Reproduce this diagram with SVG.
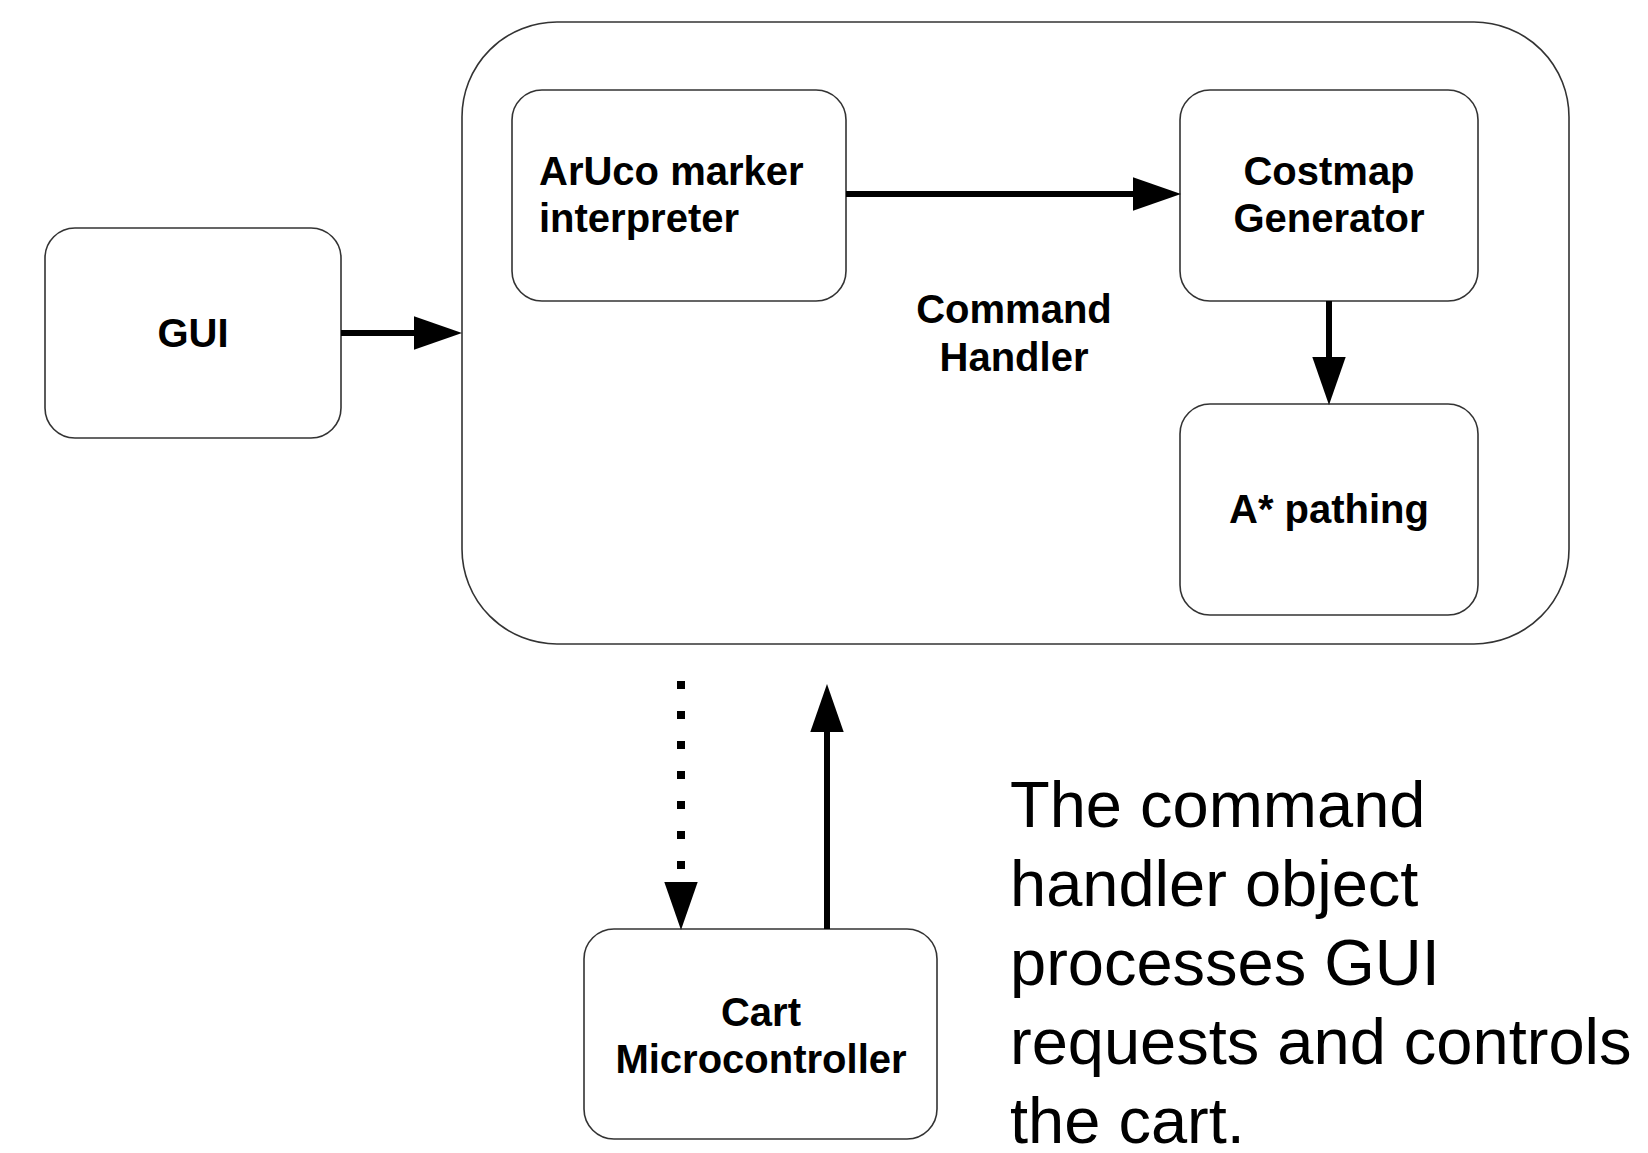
<svg xmlns="http://www.w3.org/2000/svg" width="1648" height="1153" viewBox="0 0 1648 1153">
  <style>
    .box { fill: #ffffff; stroke: #333333; stroke-width: 1.6; }
    .lbl { font-family: "Liberation Sans", Arial, sans-serif; font-weight: bold; font-size: 40px; fill: #000000; }
    .mid { text-anchor: middle; }
    .note { font-family: "Liberation Sans", Arial, sans-serif; font-size: 65px; fill: #000000; }
    .conn { stroke: #000000; stroke-width: 6; fill: none; }
    .dot { stroke: #000000; stroke-width: 8; fill: none; stroke-dasharray: 8 22; }
  </style>
  <defs>
    <marker id="arrow" markerUnits="userSpaceOnUse" markerWidth="48" markerHeight="34" refX="0" refY="16.7" orient="auto" overflow="visible">
      <path d="M0,0 L48,16.7 L0,33.4 Z" fill="#000000"/>
    </marker>
  </defs>
  <rect width="1648" height="1153" fill="#ffffff"/>

  <g id="command-handler">
    <rect class="box" x="462" y="22" width="1107" height="622" rx="95" ry="95"/>
    <text class="lbl mid" x="1014" y="323">Command</text>
    <text class="lbl mid" x="1014" y="371">Handler</text>
  </g>

  <g id="gui">
    <rect class="box" x="45" y="228" width="296" height="210" rx="30" ry="30"/>
    <text class="lbl mid" x="193" y="347">GUI</text>
  </g>

  <g id="aruco">
    <rect class="box" x="512" y="90" width="334" height="211" rx="30" ry="30"/>
    <text class="lbl" x="539" y="185">ArUco marker</text>
    <text class="lbl" x="539" y="232">interpreter</text>
  </g>

  <g id="costmap">
    <rect class="box" x="1180" y="90" width="298" height="211" rx="30" ry="30"/>
    <text class="lbl mid" x="1329" y="185">Costmap</text>
    <text class="lbl mid" x="1329" y="232">Generator</text>
  </g>

  <g id="astar">
    <rect class="box" x="1180" y="404" width="298" height="211" rx="30" ry="30"/>
    <text class="lbl mid" x="1329" y="523">A* pathing</text>
  </g>

  <g id="cart">
    <rect class="box" x="584" y="929" width="353" height="210" rx="30" ry="30"/>
    <text class="lbl mid" x="761" y="1026">Cart</text>
    <text class="lbl mid" x="761" y="1073">Microcontroller</text>
  </g>

  <g id="connectors">
    <line class="conn" x1="341" y1="333" x2="414" y2="333" marker-end="url(#arrow)"/>
    <line class="conn" x1="846" y1="194" x2="1133" y2="194" marker-end="url(#arrow)"/>
    <line class="conn" x1="1329" y1="301" x2="1329" y2="357" marker-end="url(#arrow)"/>
    <line class="dot" x1="681" y1="681" x2="681" y2="882" marker-end="url(#arrow)"/>
    <line class="conn" x1="827" y1="929" x2="827" y2="732" marker-end="url(#arrow)"/>
  </g>

  <g id="note">
    <text class="note" x="1010" y="827">The command</text>
    <text class="note" x="1010" y="906">handler object</text>
    <text class="note" x="1010" y="985">processes GUI</text>
    <text class="note" x="1010" y="1064">requests and controls</text>
    <text class="note" x="1010" y="1143">the cart.</text>
  </g>
</svg>
